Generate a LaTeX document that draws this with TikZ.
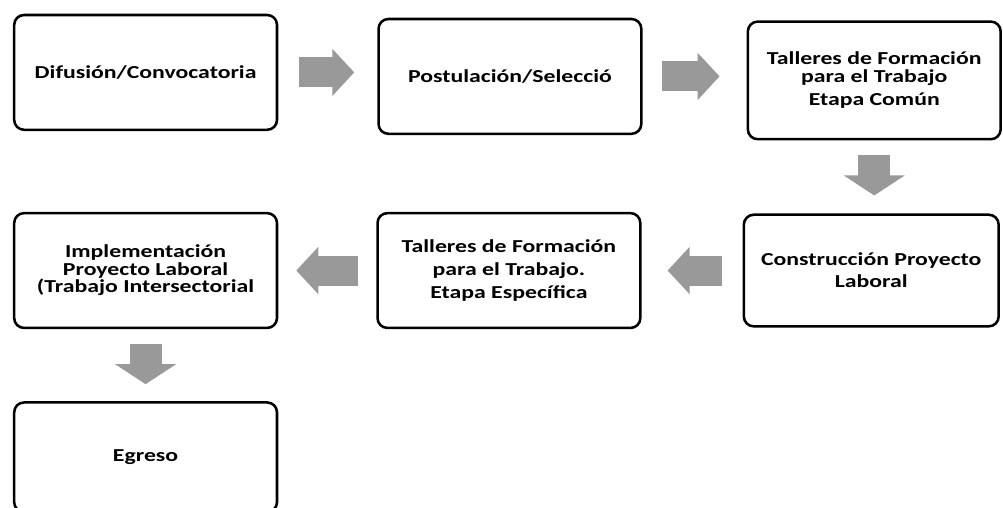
\documentclass[tikz,border=0pt]{standalone}
\usepackage{fontspec}
\setmainfont{Carlito}[FakeStretch=1.3]
\usepackage{tikz}
\usetikzlibrary{arrows.meta,positioning}

\begin{document}
\begin{tikzpicture}[
    font=\fontsize{13}{12.5}\selectfont\bfseries,
    stage/.style={draw, line width=1.8pt, rounded corners=7pt, align=center, inner sep=2pt, minimum width=6.57cm, minimum height=2.87cm},
    hflow/.style={-{Triangle[width=1.15cm, length=0.55cm]}, line width=0.75cm, black!40},
    vflow/.style={-{Triangle[width=1.5cm, length=0.5cm]}, line width=0.8cm, black!40}
]
\useasboundingbox (0,0) rectangle (25.075,-12.7);
\node[stage] (dif) at (3.64,-1.81) {Difusión/Convocatoria};
\node[stage, right=2.475cm of dif, yshift=-0.1cm] (pos) {Postulación/Selecció};
\node[stage, right=2.6cm of pos, yshift=-0.1cm, minimum width=6.32cm, minimum height=2.94cm] (tcom) {Talleres de Formación\\para el Trabajo\\[4pt]Etapa Común};
\node[stage, below=1.825cm of tcom, xshift=-0.075cm, minimum width=6.37cm, minimum height=2.79cm] (cons) {Construcción Proyecto\\[3pt]Laboral};
\node[stage, left=2.525cm of cons] (tesp) {Talleres de Formación\\[4pt]para el Trabajo.\\[4pt]Etapa Específica};
\node[stage, left=2.45cm of tesp] (impl) {Implementación\\Proyecto Laboral\\(Trabajo Intersectorial};
\node[stage, below=1.8cm of impl, minimum height=2.74cm] (egr) {Egreso};
\draw[hflow, shorten <=0.525cm, shorten >=0.575cm] (dif.east) -- (dif.east -| pos.west);
\draw[hflow, shorten <=0.475cm, shorten >=0.675cm] (pos.east) -- (pos.east -| tcom.west);
\draw[vflow, shorten <=0.375cm, shorten >=0.45cm] (tcom.south) -- (tcom.south |- cons.north);
\draw[hflow, shorten <=0.525cm, shorten >=0.65cm] (cons.west) -- (cons.west -| tesp.east);
\draw[hflow, shorten <=0.45cm, shorten >=0.45cm] (tesp.west) -- (tesp.west -| impl.east);
\draw[vflow, shorten <=0.375cm, shorten >=0.425cm] (impl.south) -- (impl.south |- egr.north);
\end{tikzpicture}
\end{document}
